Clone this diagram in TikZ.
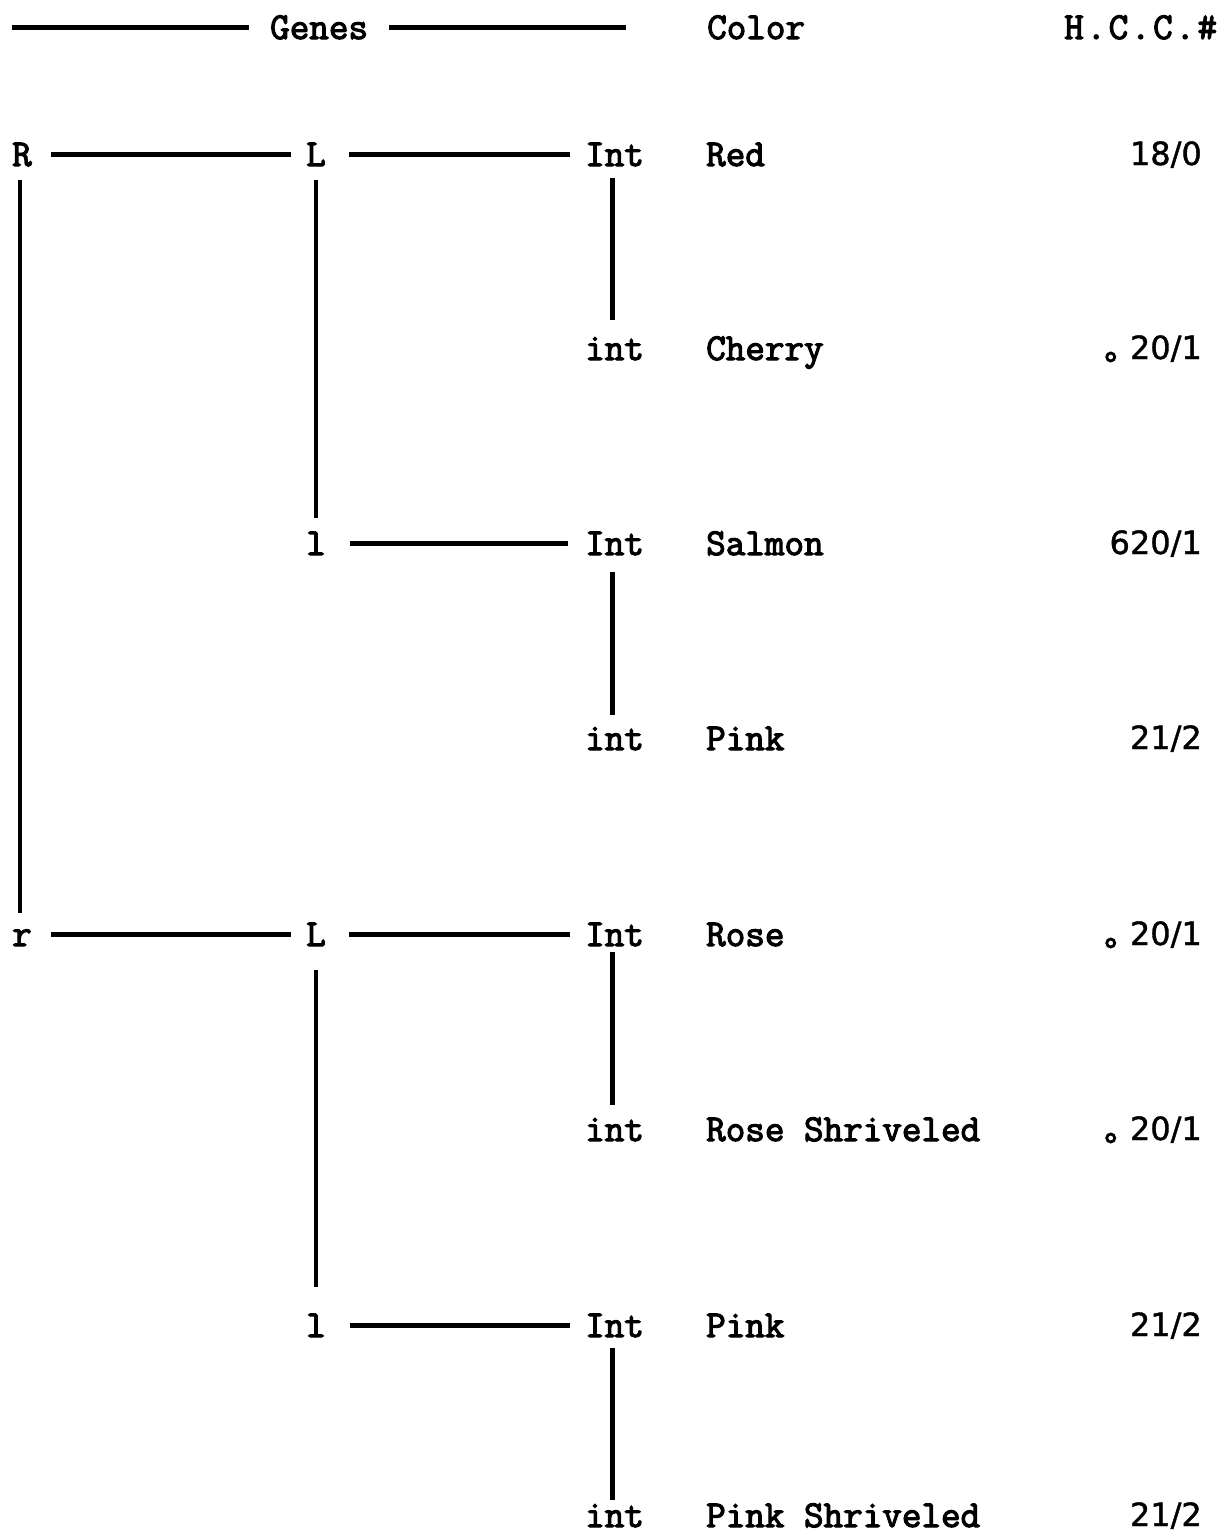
\documentclass[tikz,border=0pt]{standalone}
\usepackage{fontspec}
\newfontfamily\nfont{DejaVu Sans}[FakeBold=1.2]
\newfontfamily\gfont{Latin Modern Mono}[FakeBold=3]
\newfontfamily\hfont{Latin Modern Mono}[FakeBold=3,LetterSpace=7]
\begin{document}
\begin{tikzpicture}[x=1pt,y=-1pt,
  txt/.style={anchor=base west, inner sep=0pt, font=\gfont\fontsize{38}{44}\selectfont},
  gene/.style={txt, text height=23pt, text depth=0pt},
  num/.style={anchor=base east, inner sep=0pt, font=\nfont\fontsize{32}{38}\selectfont},
  link/.style={line width=4.5pt},
  dotmark/.style={line width=2.8pt}]
\useasboundingbox (0,0) rectangle (1226,1537);
% header
\coordinate (h0) at (12,27.5);
\coordinate (h1) at (626,27.5);
\node[gene] (genes) at (270,39) {Genes};
\node[txt] (colorh) at (707,39) {Color};
\node[txt, font=\hfont\fontsize{38}{44}\selectfont] (hcc) at (1064,39) {H.C.C.\#};
\draw[link, shorten >=21pt] (h0) -- (genes.west);
\draw[link, shorten <=21pt] (genes.east) -- (h1);
% genes
\node[gene] (R)  at (12,166)  {R};
\node[gene] (L1) at (306,166) {L};
\node[gene] (I1) at (585,166) {Int};
\node[gene] (i2) at (585,360) {int};
\node[gene] (l3) at (306,555) {l};
\node[gene] (I3) at (585,555) {Int};
\node[gene] (i4) at (585,750) {int};
\node[gene] (r5) at (12,946)  {r};
\node[gene] (L5) at (306,946) {L};
\node[gene] (I5) at (585,946) {Int};
\node[gene] (i6) at (585,1141) {int};
\node[gene] (l7) at (306,1337) {l};
\node[gene] (I7) at (585,1337) {Int};
\node[gene] (i8) at (585,1527) {int};
% colours
\node[txt] (c1) at (706,166)  {Red};
\node[txt] (c2) at (706,360)  {Cherry};
\node[txt] (c3) at (706,555)  {Salmon};
\node[txt] (c4) at (706,750)  {Pink};
\node[txt] (c5) at (706,946)  {Rose};
\node[txt] (c6) at (706,1141) {Rose Shriveled};
\node[txt] (c7) at (706,1337) {Pink};
\node[txt] (c8) at (706,1527) {Pink Shriveled};
% numbers
\node[num] (n1) at (1202,165)  {18/0};
\node[num] (n2) at (1202,359)  {20/1};
\node[num] (n3) at (1202,554)  {620/1};
\node[num] (n4) at (1202,749)  {21/2};
\node[num] (n5) at (1202,945)  {20/1};
\node[num] (n6) at (1202,1140) {20/1};
\node[num] (n7) at (1202,1336) {21/2};
\node[num] (n8) at (1202,1526) {21/2};
\foreach \n in {n2,n5,n6}
  \draw[dotmark] ([xshift=-19pt,yshift=2pt]\n.base west) circle[radius=4pt];
% horizontal links
\draw[link, shorten <=19pt, shorten >=15pt] (R.east) -- (L1.west);
\draw[link, shorten <=23pt, shorten >=15pt] (L1.east) -- (I1.west);
\draw[link, shorten <=24pt, shorten >=17pt] (l3.east) -- (I3.west);
\draw[link, shorten <=19pt, shorten >=15pt] (r5.east) -- (L5.west);
\draw[link, shorten <=23pt, shorten >=15pt] (L5.east) -- (I5.west);
\draw[link, shorten <=24pt, shorten >=15pt] (l7.east) -- (I7.west);
% vertical links
\draw[link, shorten <=14pt, shorten >=10pt] ([xshift=-2pt]R.south) -- ([xshift=-2pt]r5.north);
\draw[link, shorten <=14pt, shorten >=14pt] (L1.south) -- (l3.north);
\draw[link, shorten <=12pt, shorten >=17pt] ([xshift=-2pt]I1.south) -- ([xshift=-2pt]i2.north);
\draw[link, shorten <=17pt, shorten >=12pt] ([xshift=-2pt]I3.south) -- ([xshift=-2pt]i4.north);
\draw[link, shorten <=24pt, shorten >=27pt] (L5.south) -- (l7.north);
\draw[link, shorten <=6pt, shorten >=13pt] ([xshift=-2pt]I5.south) -- ([xshift=-2pt]i6.north);
\draw[link, shorten <=11pt, shorten >=4pt] ([xshift=-2pt]I7.south) -- ([xshift=-2pt]i8.north);
\end{tikzpicture}
\end{document}
